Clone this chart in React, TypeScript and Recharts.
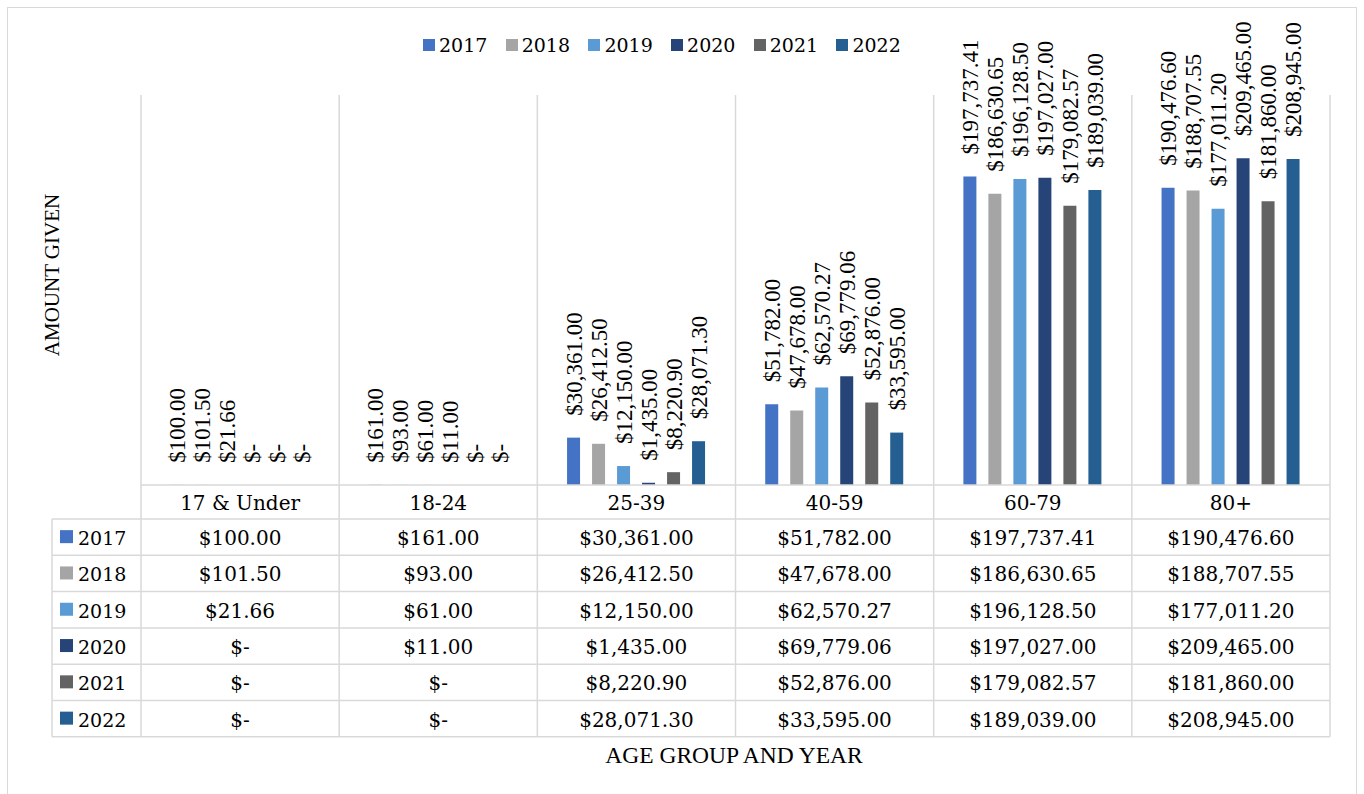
import React from 'react';
import { BarChart, Bar, XAxis, YAxis, LabelList } from 'recharts';

const categories = ['17 & Under', '18-24', '25-39', '40-59', '60-79', '80+'];
const years = ['2017', '2018', '2019', '2020', '2021', '2022'];
const colors = ['#4472C4', '#A5A5A5', '#5B9BD5', '#264478', '#636363', '#255E91'];

const given2017 = [100, 161, 30361, 51782, 197737.41, 190476.6];
const given2018 = [101.5, 93, 26412.5, 47678, 186630.65, 188707.55];
const given2019 = [21.66, 61, 12150, 62570.27, 196128.5, 177011.2];
const given2020 = [0, 11, 1435, 69779.06, 197027, 209465];
const given2021 = [0, 0, 8220.9, 52876, 179082.57, 181860];
const given2022 = [0, 0, 28071.3, 33595, 189039, 208945];

const series = [given2017, given2018, given2019, given2020, given2021, given2022];

const money = (v: number) =>
  v === 0
    ? '$-'
    : '$' + v.toLocaleString('en-US', { minimumFractionDigits: 2, maximumFractionDigits: 2 });

const data = categories.map((group, i) => {
  const row: Record<string, string | number> = { group };
  years.forEach((y, s) => {
    row[y] = series[s][i];
    row[y + '_label'] = money(series[s][i]);
  });
  return row;
});

const W = 1364;
const H = 794;
const PLOT_LEFT = 141;
const PLOT_RIGHT = 1330;
const PLOT_TOP = 95;
const PLOT_BOTTOM = 485;
const BAND = (PLOT_RIGHT - PLOT_LEFT) / categories.length;
const TABLE_LEFT = 52;
const HEADER_H = 34;
const ROW_H = 36.3;
const GRID = '#D9D9D9';
const SERIF = "Georgia, 'DejaVu Serif', serif";
const TIMES = "'Liberation Serif', 'Times New Roman', serif";

const renderLabel = (props: any) => {
  const { x, y, width, value } = props;
  const cx = Number(x) + Number(width) / 2 + 8;
  const cy = Number(y) - 22;
  return (
    <text
      x={cx}
      y={cy}
      transform={`rotate(-90, ${cx}, ${cy})`}
      textAnchor="start"
      fontFamily={TIMES}
      fontSize={23}
      fill="#000"
    >
      {value}
    </text>
  );
};

// zero values still need a (hairline) rect so that their "$-" label is placed
const hairline = (value: any) => (Number(value) === 0 ? 0.01 : 0);

// x axis tick draws the category column of the data table
const TableTick = (props: any) => {
  const { x, payload } = props;
  const i = categories.indexOf(payload.value);
  const left = x - BAND / 2;
  const right = x + BAND / 2;
  const tableBottom = PLOT_BOTTOM + HEADER_H + ROW_H * years.length;
  return (
    <g>
      <line x1={left} x2={left} y1={PLOT_TOP} y2={tableBottom} stroke={GRID} strokeWidth={1.5} />
      {i === categories.length - 1 && (
        <line x1={right} x2={right} y1={PLOT_TOP} y2={tableBottom} stroke={GRID} strokeWidth={1.5} />
      )}
      <line x1={left} x2={right} y1={PLOT_BOTTOM} y2={PLOT_BOTTOM} stroke={GRID} strokeWidth={1.5} />
      <text
        x={x}
        y={PLOT_BOTTOM + HEADER_H / 2 + 1}
        textAnchor="middle"
        dominantBaseline="central"
        fontFamily={SERIF}
        fontSize={20}
        fill="#000"
      >
        {payload.value}
      </text>
      {years.map((yr, s) => {
        const top = PLOT_BOTTOM + HEADER_H + ROW_H * s;
        return (
          <g key={yr}>
            <line x1={left} x2={right} y1={top} y2={top} stroke={GRID} strokeWidth={1.5} />
            <text
              x={x}
              y={top + ROW_H / 2 + 1}
              textAnchor="middle"
              dominantBaseline="central"
              fontFamily={SERIF}
              fontSize={20}
              fill="#000"
            >
              {money(series[s][i])}
            </text>
          </g>
        );
      })}
      <line x1={left} x2={right} y1={tableBottom} y2={tableBottom} stroke={GRID} strokeWidth={1.5} />
      {i === 0 && (
        <g>
          <line
            x1={TABLE_LEFT}
            x2={TABLE_LEFT}
            y1={PLOT_BOTTOM + HEADER_H}
            y2={tableBottom}
            stroke={GRID}
            strokeWidth={1.5}
          />
          {years.map((yr, s) => {
            const top = PLOT_BOTTOM + HEADER_H + ROW_H * s;
            return (
              <g key={yr}>
                <line x1={TABLE_LEFT} x2={left} y1={top} y2={top} stroke={GRID} strokeWidth={1.5} />
                <rect x={TABLE_LEFT + 8} y={top + ROW_H / 2 - 7} width={13} height={13} fill={colors[s]} />
                <text
                  x={TABLE_LEFT + 26}
                  y={top + ROW_H / 2 + 1}
                  dominantBaseline="central"
                  fontFamily={SERIF}
                  fontSize={19}
                  fill="#000"
                >
                  {yr}
                </text>
              </g>
            );
          })}
          <line x1={TABLE_LEFT} x2={left} y1={tableBottom} y2={tableBottom} stroke={GRID} strokeWidth={1.5} />
        </g>
      )}
    </g>
  );
};

export default function App() {
  return (
    <div style={{ position: 'absolute', left: 0, top: 0, width: W, height: H, background: '#fff', overflow: 'hidden' }}>
      <div
        style={{
          position: 'absolute',
          left: 7,
          top: 7,
          width: 1350,
          height: 820,
          border: `1.5px solid ${GRID}`,
          boxSizing: 'border-box',
        }}
      />
      <div style={{ position: 'absolute', left: 0, top: 0 }}>
        <BarChart
          width={W}
          height={H}
          data={data}
          margin={{ top: PLOT_TOP, left: PLOT_LEFT, right: W - PLOT_RIGHT, bottom: 58 }}
          barCategoryGap="15%"
          barGap={12}
        >
          <XAxis
            dataKey="group"
            height={251}
            interval={0}
            axisLine={false}
            tickLine={false}
            tick={<TableTick />}
          />
          <YAxis hide domain={[0, 250000]} />
          {years.map((yr, s) => (
            <Bar key={yr} dataKey={yr} fill={colors[s]} minPointSize={hairline} isAnimationActive={false}>
              <LabelList dataKey={yr + '_label'} content={renderLabel} />
            </Bar>
          ))}
        </BarChart>
      </div>
      <div style={{ position: 'absolute', left: 423, top: 34, display: 'flex' }}>
        {years.map((yr, s) => (
          <div key={yr} style={{ width: 82.7, display: 'flex', alignItems: 'center' }}>
            <span style={{ width: 12, height: 12, background: colors[s], display: 'inline-block', marginRight: 4 }} />
            <span style={{ fontFamily: SERIF, fontSize: 19, lineHeight: '22px', color: '#000' }}>{yr}</span>
          </div>
        ))}
      </div>
      <div
        style={{
          position: 'absolute',
          left: 52,
          top: 275,
          transform: 'translate(-50%, -50%) rotate(-90deg)',
          fontFamily: TIMES,
          fontSize: 21,
          whiteSpace: 'nowrap',
          color: '#000',
        }}
      >
        AMOUNT GIVEN
      </div>
      <div
        style={{
          position: 'absolute',
          left: 734,
          top: 755,
          transform: 'translate(-50%, -50%)',
          fontFamily: TIMES,
          fontSize: 23.5,
          whiteSpace: 'nowrap',
          color: '#000',
        }}
      >
        AGE GROUP AND YEAR
      </div>
    </div>
  );
}
